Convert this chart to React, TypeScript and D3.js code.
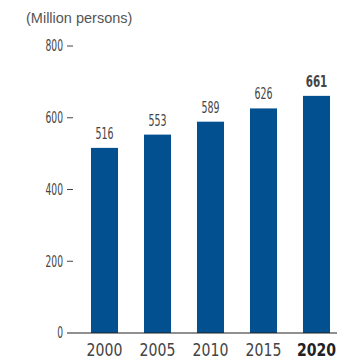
import React from "react";
import * as d3 from "d3";

const years = ["2000", "2005", "2010", "2015", "2020"];
const values = [516, 553, 589, 626, 661];
const yTicks = [0, 200, 400, 600, 800];
const unitLabel = "(Million persons)";

export default function App() {
  const W = 337, H = 360;
  const x = d3.scaleBand<string>().domain(years).range([78, 343]).paddingInner(0.49).paddingOuter(0.245);
  const y = d3.scaleLinear().domain([0, 800]).range([333, 46]);
  const narrow = "'Liberation Sans Narrow', 'DejaVu Sans Condensed', sans-serif";
  const last = years.length - 1;
  const sx = (cx: number, s: number) => `translate(${cx},0) scale(${s},1) translate(${-cx},0)`;
  return (
    <svg width={W} height={H} style={{ position: "absolute", left: 0, top: 0 }}>
      <text x={26} y={23} fontFamily="'Liberation Sans', Arial, sans-serif" fontSize={14.5} fill="#555">{unitLabel}</text>
      {yTicks.map((t) => (
        <g key={t}>
          <text x={63} y={y(t) + 5.5} textAnchor="end" fontFamily={narrow} fontSize={15} fill="#444" transform={sx(63, 0.68)}>{t}</text>
          {t !== 0 && <line x1={67} x2={73} y1={y(t)} y2={y(t)} stroke="#444" strokeWidth={1} />}
        </g>
      ))}
      {years.map((yr, i) => {
        const cx = x(yr)! + x.bandwidth() / 2;
        return (
          <g key={yr}>
            <rect x={x(yr)} y={y(values[i])} width={x.bandwidth()} height={y(0) - y(values[i])} fill="#02508f" />
            <text x={cx} y={y(values[i]) - 9} textAnchor="middle" fontFamily={narrow}
              fontSize={i === last ? 16.5 : 15} fontWeight={i === last ? "bold" : "normal"} fill="#444"
              transform={sx(cx, 0.7)}>{values[i]}</text>
            <text x={cx} y={356} textAnchor="middle" fontFamily={narrow} fontSize={17}
              fontWeight={i === last ? "bold" : "normal"} fill={i === last ? "#222" : "#444"}
              transform={sx(cx, 0.92)}>{yr}</text>
          </g>
        );
      })}
      <line x1={67} x2={337} y1={y(0)} y2={y(0)} stroke="#222" strokeWidth={1.2} />
    </svg>
  );
}
